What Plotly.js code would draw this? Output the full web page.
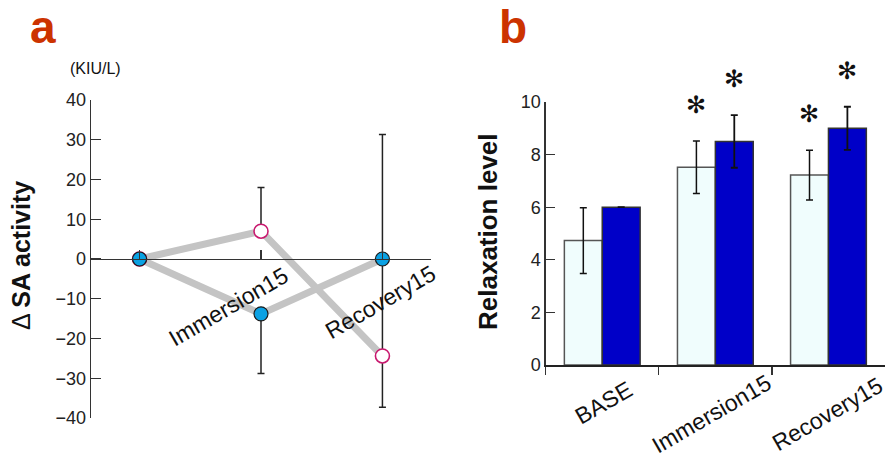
<!DOCTYPE html>
<html>
<head>
<meta charset="utf-8">
<script src="https://cdn.plot.ly/plotly-3.0.1.min.js"></script>
<style>html,body{margin:0;padding:0;background:#fff;}#chart{width:889px;height:458px;}</style>
</head>
<body>
<div id="chart"></div>
<script>
// ---- Panel a data ----
var catsA = ["BASE", "Immersion15", "Recovery15"];
var openVals = [0, 7.0, -24.4];
var openErrUp = [0, 11.0, 24.4];
var openErrDown = [0, 0, 12.9];
var filledVals = [0, -13.8, 0];
var filledErrUp = [0, 0, 31.3];
var filledErrDown = [0, 15.0, 0];
var yTicksA = [-40, -30, -20, -10, 0, 10, 20, 30, 40];

// ---- Panel b data ----
var catsB = ["BASE", "Immersion15", "Recovery15"];
var lightVals = [4.73, 7.52, 7.22];
var lightErr = [1.25, 1.0, 0.95];
var darkVals = [6.0, 8.5, 9.0];
var darkErr = [null, 1.0, 0.82];
var yTicksB = [0, 2, 4, 6, 8, 10];
var starLight = [false, true, true];
var starDark = [false, true, true];

var FONT = "Liberation Sans, Arial, Helvetica, sans-serif";
var AX = "#333";

var traces = [
  {x: catsA, y: openVals, xaxis: "x", yaxis: "y", mode: "lines", type: "scatter",
   line: {color: "#c4c4c4", width: 7}, hoverinfo: "skip", showlegend: false},
  {x: catsA, y: filledVals, xaxis: "x", yaxis: "y", mode: "lines", type: "scatter",
   line: {color: "#c4c4c4", width: 7}, hoverinfo: "skip", showlegend: false},
  {x: catsA, y: openVals, xaxis: "x", yaxis: "y", mode: "markers", type: "scatter",
   marker: {size: 14, color: "#ffffff", line: {color: "#c8186e", width: 1.6}},
   error_y: {type: "data", symmetric: false, array: openErrUp, arrayminus: openErrDown,
             color: "#222", thickness: 1.5, width: 3.5},
   showlegend: false},
  {x: catsA, y: filledVals, xaxis: "x", yaxis: "y", mode: "markers", type: "scatter",
   marker: {size: 14, color: "#0ba1e3", line: {color: "#1a1a1a", width: 1.2}},
   error_y: {type: "data", symmetric: false, array: filledErrUp, arrayminus: filledErrDown,
             color: "#222", thickness: 1.5, width: 3.5},
   showlegend: false},
  {x: catsB, y: lightVals, xaxis: "x2", yaxis: "y2", type: "bar",
   marker: {color: "#f0fdfd", line: {color: "#555", width: 1.5}},
   error_y: {type: "data", array: lightErr, color: "#111", thickness: 1.5, width: 3.5},
   showlegend: false},
  {x: catsB, y: darkVals, xaxis: "x2", yaxis: "y2", type: "bar",
   marker: {color: "#0000c8", line: {color: "#333", width: 1.5}},
   error_y: {type: "data", array: darkErr, color: "#111", thickness: 1.8, width: 3.5},
   showlegend: false}
];

var annotations = [];
// category labels panel a
var shiftsA = [[0, 0], [-33, -48], [-2, -43]];
catsA.forEach(function (c, i) {
  if (i === 0) return;
  annotations.push({x: c, y: 0, xref: "x", yref: "y", text: c, showarrow: false,
    textangle: -30, xanchor: "center", yanchor: "middle",
    xshift: shiftsA[i][0], yshift: shiftsA[i][1], font: {family: FONT, size: 23, color: "#111"}});
});
// category labels panel b
var shiftsB = [[1, -38], [-4, -49], [-1, -49]];
catsB.forEach(function (c, i) {
  annotations.push({x: c, y: 0, xref: "x2", yref: "y2", text: c, showarrow: false,
    textangle: -30, xanchor: "center", yanchor: "middle",
    xshift: shiftsB[i][0], yshift: shiftsB[i][1], font: {family: FONT, size: 23, color: "#111"}});
});
// asterisks
catsB.forEach(function (c, i) {
  if (starLight[i]) annotations.push({x: c, y: lightVals[i] + lightErr[i], xref: "x2", yref: "y2",
    text: "✻", showarrow: false, xshift: -19, yshift: 36, yanchor: "middle",
    font: {family: "DejaVu Sans", size: 24, color: "#111"}});
  if (starDark[i]) annotations.push({x: c, y: darkVals[i] + darkErr[i], xref: "x2", yref: "y2",
    text: "✻", showarrow: false, xshift: 19, yshift: 36, yanchor: "middle",
    font: {family: "DejaVu Sans", size: 24, color: "#111"}});
});
// titles and panel letters
annotations.push({xref: "paper", yref: "paper", x: 21 / 889, y: 1 - 256 / 458, text: "Δ <b>SA activity</b>",
  textangle: -90, showarrow: false, xanchor: "center", yanchor: "middle", font: {family: FONT, size: 25, color: "#111"}});
annotations.push({xref: "paper", yref: "paper", x: 488 / 889, y: 1 - 232 / 458, text: "<b>Relaxation level</b>",
  textangle: -90, showarrow: false, xanchor: "center", yanchor: "middle", font: {family: FONT, size: 26, color: "#111"}});
annotations.push({xref: "paper", yref: "paper", x: 95 / 889, y: 1 - 69 / 458, text: "(KIU/L)",
  showarrow: false, xanchor: "center", yanchor: "middle", font: {family: FONT, size: 16, color: "#111"}});
annotations.push({xref: "paper", yref: "paper", x: 43 / 889, y: 1 - 27 / 458, text: "<b>a</b>",
  showarrow: false, xanchor: "center", yanchor: "middle", font: {family: FONT, size: 46, color: "#cc3300"}});
annotations.push({xref: "paper", yref: "paper", x: 513 / 889, y: 1 - 27 / 458, text: "<b>b</b>",
  showarrow: false, xanchor: "center", yanchor: "middle", font: {family: FONT, size: 46, color: "#cc3300"}});

var yDomA = [1 - 418 / 458, 1 - 100 / 458];
var yDomB = [1 - 365 / 458, 1 - 102 / 458];

var layout = {
  width: 889, height: 458,
  margin: {l: 0, r: 0, t: 0, b: 0},
  paper_bgcolor: "#fff", plot_bgcolor: "rgba(0,0,0,0)",
  font: {family: FONT, color: "#111"},
  showlegend: false,
  barmode: "group", bargap: 0.33, bargroupgap: 0,
  xaxis: {domain: [91 / 889, 431 / 889], anchor: "free", position: (yDomA[0] + yDomA[1]) / 2,
    type: "category", range: [-0.4, 2.4], showgrid: false, zeroline: false,
    showline: true, linecolor: AX, linewidth: 1.3,
    ticks: "inside", ticklen: 9, tickwidth: 1.3, tickcolor: AX, showticklabels: false},
  yaxis: {domain: yDomA, anchor: "x", range: [-40, 40], tickvals: yTicksA,
    showgrid: false, zeroline: false, showline: true, linecolor: AX, linewidth: 1.3,
    ticks: "inside", ticklen: 10, tickwidth: 1.3, tickcolor: AX,
    tickfont: {family: FONT, size: 18, color: "#222"}, position: 91 / 889},
  xaxis2: {domain: [545.7 / 889, 885 / 889], anchor: "y2", type: "category", range: [-0.5, 2.5],
    showgrid: false, zeroline: false, showline: true, linecolor: "#222", linewidth: 1.5,
    ticks: "outside", tickson: "boundaries", ticklen: 8, tickwidth: 1.3, tickcolor: AX, showticklabels: false},
  yaxis2: {domain: yDomB, anchor: "x2", range: [0, 10], tickvals: yTicksB,
    showgrid: false, zeroline: false, showline: true, linecolor: AX, linewidth: 1.3,
    ticks: "inside", ticklen: 9, tickwidth: 1.3, tickcolor: AX,
    tickfont: {family: FONT, size: 18, color: "#222"}},
  annotations: annotations
};

Plotly.newPlot("chart", traces, layout, {staticPlot: true, displayModeBar: false});
</script>
</body>
</html>
